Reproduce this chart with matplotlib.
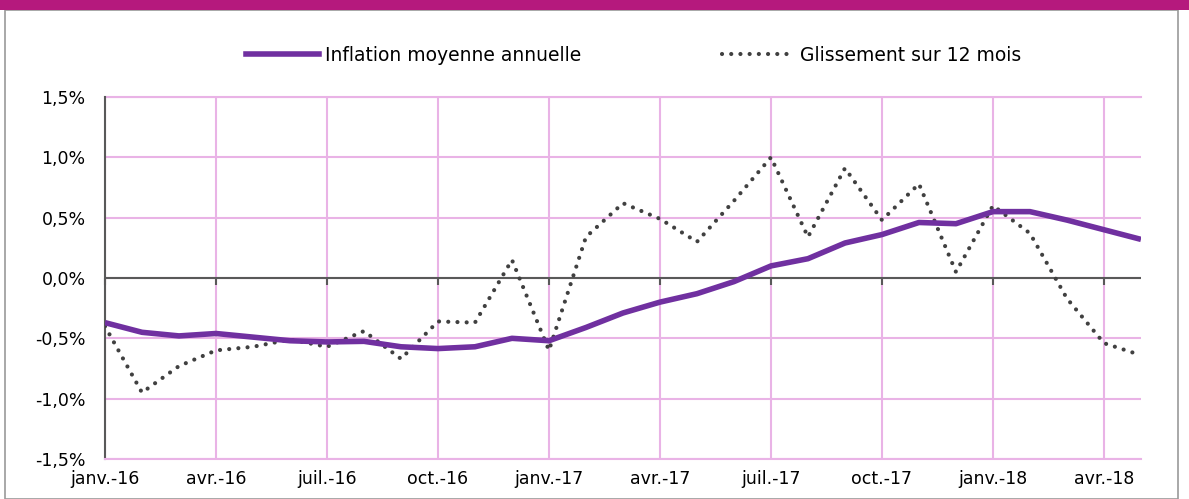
import matplotlib
matplotlib.use("Agg")
import matplotlib.pyplot as plt
from matplotlib.patches import Rectangle
from matplotlib.lines import Line2D

# Données mensuelles janv.-16 -> mai-18 (en %)
mois = ["janv.-16", "févr.-16", "mars-16", "avr.-16", "mai-16", "juin-16",
        "juil.-16", "août-16", "sept.-16", "oct.-16", "nov.-16", "déc.-16",
        "janv.-17", "févr.-17", "mars-17", "avr.-17", "mai-17", "juin-17",
        "juil.-17", "août-17", "sept.-17", "oct.-17", "nov.-17", "déc.-17",
        "janv.-18", "févr.-18", "mars-18", "avr.-18", "mai-18"]
inflation_moy = [-0.37, -0.45, -0.48, -0.46, -0.49, -0.52, -0.53, -0.525, -0.57,
                 -0.585, -0.57, -0.50, -0.52, -0.41, -0.29, -0.20, -0.13, -0.03,
                 0.10, 0.16, 0.29, 0.36, 0.46, 0.45, 0.55, 0.55, 0.48, 0.40, 0.32]
glissement = [-0.40, -0.95, -0.73, -0.60, -0.57, -0.51, -0.57, -0.44, -0.67,
              -0.36, -0.37, 0.15, -0.60, 0.34, 0.62, 0.49, 0.30, 0.64, 1.00,
              0.34, 0.91, 0.48, 0.78, 0.05, 0.60, 0.37, -0.17, -0.54, -0.64]
ticks_y = [-1.5, -1.0, -0.5, 0.0, 0.5, 1.0, 1.5]
labels_y = ["-1,5%", "-1,0%", "-0,5%", "0,0%", "0,5%", "1,0%", "1,5%"]

violet = "#7030A0"
rose = "#E9B3E6"
gris = "#404040"

fig = plt.figure(figsize=(11.89, 4.99), dpi=100)
ax = fig.add_axes([0.0883, 0.0802, 0.8713, 0.7254])

x = list(range(len(mois)))
ax.set_xlim(0, len(mois) - 1)
ax.set_ylim(-1.5, 1.5)

ax.set_yticks(ticks_y)
ax.set_yticklabels(labels_y)
ax.set_xticks(x[::3])
ax.set_xticklabels(mois[::3])
ax.tick_params(axis="both", length=0, labelsize=12.5, colors="black")
ax.tick_params(axis="y", pad=14)
ax.tick_params(axis="x", pad=8)

ax.grid(True, color=rose, linewidth=1.5)
ax.set_axisbelow(True)
for s in ["top", "right"]:
    ax.spines[s].set_visible(False)
ax.spines["bottom"].set_color(rose)
ax.spines["bottom"].set_linewidth(1.5)
ax.spines["left"].set_color("#595959")
ax.spines["left"].set_linewidth(1.5)
ax.axhline(1.5, color=rose, linewidth=1.5, clip_on=False, zorder=1)

# ligne du zéro avec petites graduations
ax.axhline(0, color="#595959", linewidth=1.5, zorder=2)
ax.plot(x[::3], [0] * len(x[::3]), linestyle="none", marker=3, markersize=5,
        markeredgewidth=1.5, color="#595959", zorder=2, clip_on=False)

ax.plot(x, glissement, color=gris, linestyle=(0, (0.01, 2.2)), linewidth=3,
        dash_capstyle="round", zorder=3)
ax.plot(x, inflation_moy, color=violet, linewidth=4, zorder=4,
        solid_capstyle="butt")

handles = [Line2D([], [], color=violet, linewidth=4),
           Line2D([], [], color=gris, linestyle=(0, (0.01, 2.2)), linewidth=3,
                  dash_capstyle="round")]
fig.legend(handles, ["Inflation moyenne annuelle", "Glissement sur 12 mois"],
           loc="center", bbox_to_anchor=(0.533, 0.889), ncol=2, frameon=False,
           fontsize=13.5, handlelength=3.9, handletextpad=0.3, columnspacing=7.5)

fig.patches.append(Rectangle((0.004, 0.0), 0.987, 0.98, transform=fig.transFigure,
                             fill=False, edgecolor="#9a9a9a", linewidth=1.2))
fig.patches.append(Rectangle((0.0, 0.98), 1.0, 0.02, transform=fig.transFigure,
                             facecolor="#B5197D", edgecolor="none"))

fig.savefig("out.png", dpi=100)
